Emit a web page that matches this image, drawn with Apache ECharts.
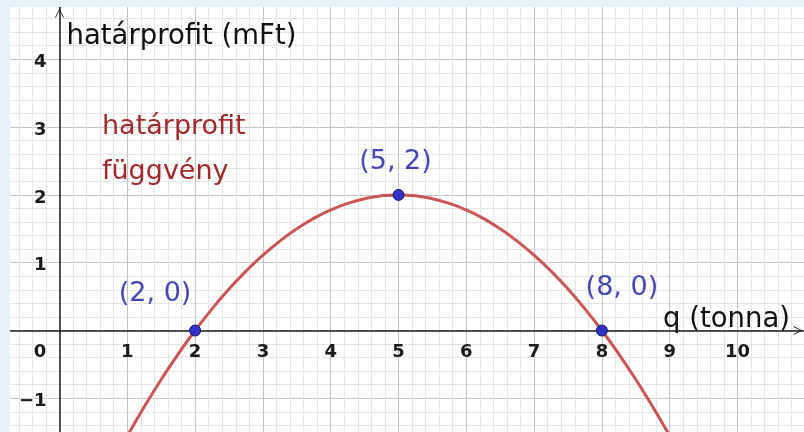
<!DOCTYPE html>
<html>
<head>
<meta charset="utf-8">
<title>határprofit</title>
<script src="https://cdn.jsdelivr.net/npm/echarts@6/dist/echarts.min.js"></script>
<style>
  html, body { margin: 0; padding: 0; background: #e8f1f8; }
  #chart { width: 804px; height: 432px; }
</style>
</head>
<body>
<div id="chart"></div>
<script>
// values
var qValues = [1, 1.25, 1.5, 1.75, 2, 2.25, 2.5, 2.75, 3, 3.25, 3.5, 3.75, 4, 4.25, 4.5, 4.75, 5,
  5.25, 5.5, 5.75, 6, 6.25, 6.5, 6.75, 7, 7.25, 7.5, 7.75, 8, 8.25, 8.5, 8.75, 9];
var profitValues = [-1.556, -1.125, -0.722, -0.347, 0, 0.319, 0.611, 0.875, 1.111, 1.319, 1.5, 1.653, 1.778, 1.875, 1.944, 1.986, 2,
  1.986, 1.944, 1.875, 1.778, 1.653, 1.5, 1.319, 1.111, 0.875, 0.611, 0.319, 0, -0.347, -0.722, -1.125, -1.556];

var pointQ = [2, 5, 8];
var pointProfit = [0, 2, 0];
var pointLabels = ['(2, 0)', '(5, 2)', '(8, 0)'];

var xTickLabels = ['0', '1', '2', '3', '4', '5', '6', '7', '8', '9', '10'];
var yTickLabels = ['−1', '1', '2', '3', '4'];

// pixel layout of the picture (origin and unit length)
var X0 = 59.5, Y0 = 330.5, U = 67.8;
var W = 804, H = 432, FRAME_L = 10, FRAME_T = 7;
var X_MIN = -1, X_MAX = 11, Y_MIN = -2, Y_MAX = 5;

var chart = echarts.init(document.getElementById('chart'));

var curveData = qValues.map(function (q, i) { return [q, profitValues[i]]; });
var labelOffsets = [[-40, -37], [-3, -33], [20, -43]];
var pointData = pointQ.map(function (q, i) {
  return {
    value: [q, pointProfit[i]],
    label: { formatter: pointLabels[i], offset: labelOffsets[i] }
  };
});

var labelFont = { fontFamily: 'DejaVu Sans', fontSize: 18, fontWeight: 'bold', color: '#1a1a1a' };
var arrowPath = 'path://M0,10 L5,0 L10,10 L9,10 L5,2 L1,10 Z';

var option = {
  backgroundColor: 'transparent',
  animation: false,
  grid: [
    // grid lines and tick labels, integer extents so the minor lines line up
    { left: X0 + X_MIN * U, top: Y0 - Y_MAX * U, width: (X_MAX - X_MIN) * U, height: (Y_MAX - Y_MIN) * U,
      outerBoundsMode: 'none', containLabel: false,
      show: true, backgroundColor: '#ffffff', borderWidth: 0 },
    // visible drawing area, only for axis lines and names
    { left: FRAME_L, top: FRAME_T, width: W - FRAME_L, height: H - FRAME_T,
      outerBoundsMode: 'none', containLabel: false, show: false }
  ],
  xAxis: [
    {
      type: 'value', gridIndex: 0, min: X_MIN, max: X_MAX, interval: 1,
      position: 'bottom', offset: Y_MIN * U,
      axisLine: { show: false, onZero: false },
      axisTick: { show: false },
      minorTick: { show: false, splitNumber: 5 },
      splitLine: { show: true, lineStyle: { color: '#c4c4c4', width: 1 } },
      minorSplitLine: { show: true, lineStyle: { color: '#e6e6e6', width: 1 } },
      axisLabel: Object.assign({
        margin: 13,
        formatter: function (v) {
          if (v === 0) return '{o|' + xTickLabels[0] + '}';
          return (v >= 1 && v <= 10) ? xTickLabels[v] : '';
        },
        rich: { o: Object.assign({ padding: [0, 39, 0, 0] }, labelFont) }
      }, labelFont)
    },
    {
      type: 'value', gridIndex: 1,
      min: (FRAME_L - X0) / U, max: (W - X0) / U,
      axisLine: {
        show: true, onZero: true,
        symbol: ['none', arrowPath],
        symbolSize: [16, 9], symbolOffset: [0, -6],
        lineStyle: { color: '#1e1e1e', width: 1.5 }
      },
      axisTick: { show: false }, axisLabel: { show: false }, splitLine: { show: false },
      name: 'q (tonna)', nameLocation: 'end', nameGap: -14,
      nameTextStyle: { fontFamily: 'DejaVu Sans', fontSize: 27.5, color: '#111111',
        align: 'right', verticalAlign: 'bottom', lineHeight: 22 }
    }
  ],
  yAxis: [
    {
      type: 'value', gridIndex: 0, min: Y_MIN, max: Y_MAX, interval: 1,
      position: 'left', offset: X_MIN * U,
      axisLine: { show: false, onZero: false },
      axisTick: { show: false },
      minorTick: { show: false, splitNumber: 5 },
      splitLine: { show: true, lineStyle: { color: '#c4c4c4', width: 1 } },
      minorSplitLine: { show: true, lineStyle: { color: '#e6e6e6', width: 1 } },
      axisLabel: Object.assign({
        margin: 13,
        verticalAlign: 'top',
        lineHeight: 6,
        formatter: function (v) {
          if (v === -1) return yTickLabels[0];
          return (v >= 1 && v <= 4) ? yTickLabels[v] : '';
        }
      }, labelFont)
    },
    {
      type: 'value', gridIndex: 1,
      min: (Y0 - H) / U, max: (Y0 - FRAME_T) / U,
      axisLine: {
        show: true, onZero: true,
        symbol: ['none', arrowPath],
        symbolSize: [16, 9], symbolOffset: [0, -6],
        lineStyle: { color: '#1e1e1e', width: 1.5 }
      },
      axisTick: { show: false }, axisLabel: { show: false }, splitLine: { show: false },
      name: 'határprofit (mFt)', nameLocation: 'end', nameGap: -30,
      nameTextStyle: { fontFamily: 'DejaVu Sans', fontSize: 27.5, color: '#111111',
        align: 'left', verticalAlign: 'middle', padding: [0, 0, 0, 7] }
    }
  ],
  graphic: [
    { type: 'rect', z: 100, silent: true, shape: { x: 0, y: 0, width: W, height: FRAME_T }, style: { fill: '#e8f1f8' } },
    { type: 'rect', z: 100, silent: true, shape: { x: 0, y: 0, width: FRAME_L, height: H }, style: { fill: '#e8f1f8' } },
    { type: 'text', z: 50, left: 102, top: 104,
      style: { text: 'határprofit\nfüggvény', fontFamily: 'DejaVu Sans', fontSize: 27,
        lineHeight: 45, fill: '#a0282e' } }
  ],
  series: [
    {
      type: 'line', xAxisIndex: 0, yAxisIndex: 0,
      data: curveData, smooth: 0.5, showSymbol: false,
      lineStyle: { color: '#c85656', width: 3 },
      z: 3
    },
    {
      type: 'scatter', xAxisIndex: 0, yAxisIndex: 0,
      data: pointData, symbolSize: 11,
      itemStyle: { color: '#3232c8', borderColor: '#16165e', borderWidth: 1, opacity: 1 },
      label: { show: true, position: 'inside', fontFamily: 'DejaVu Sans', fontSize: 27, color: '#4646b4' },
      z: 5
    }
  ]
};

chart.setOption(option);
</script>
</body>
</html>
